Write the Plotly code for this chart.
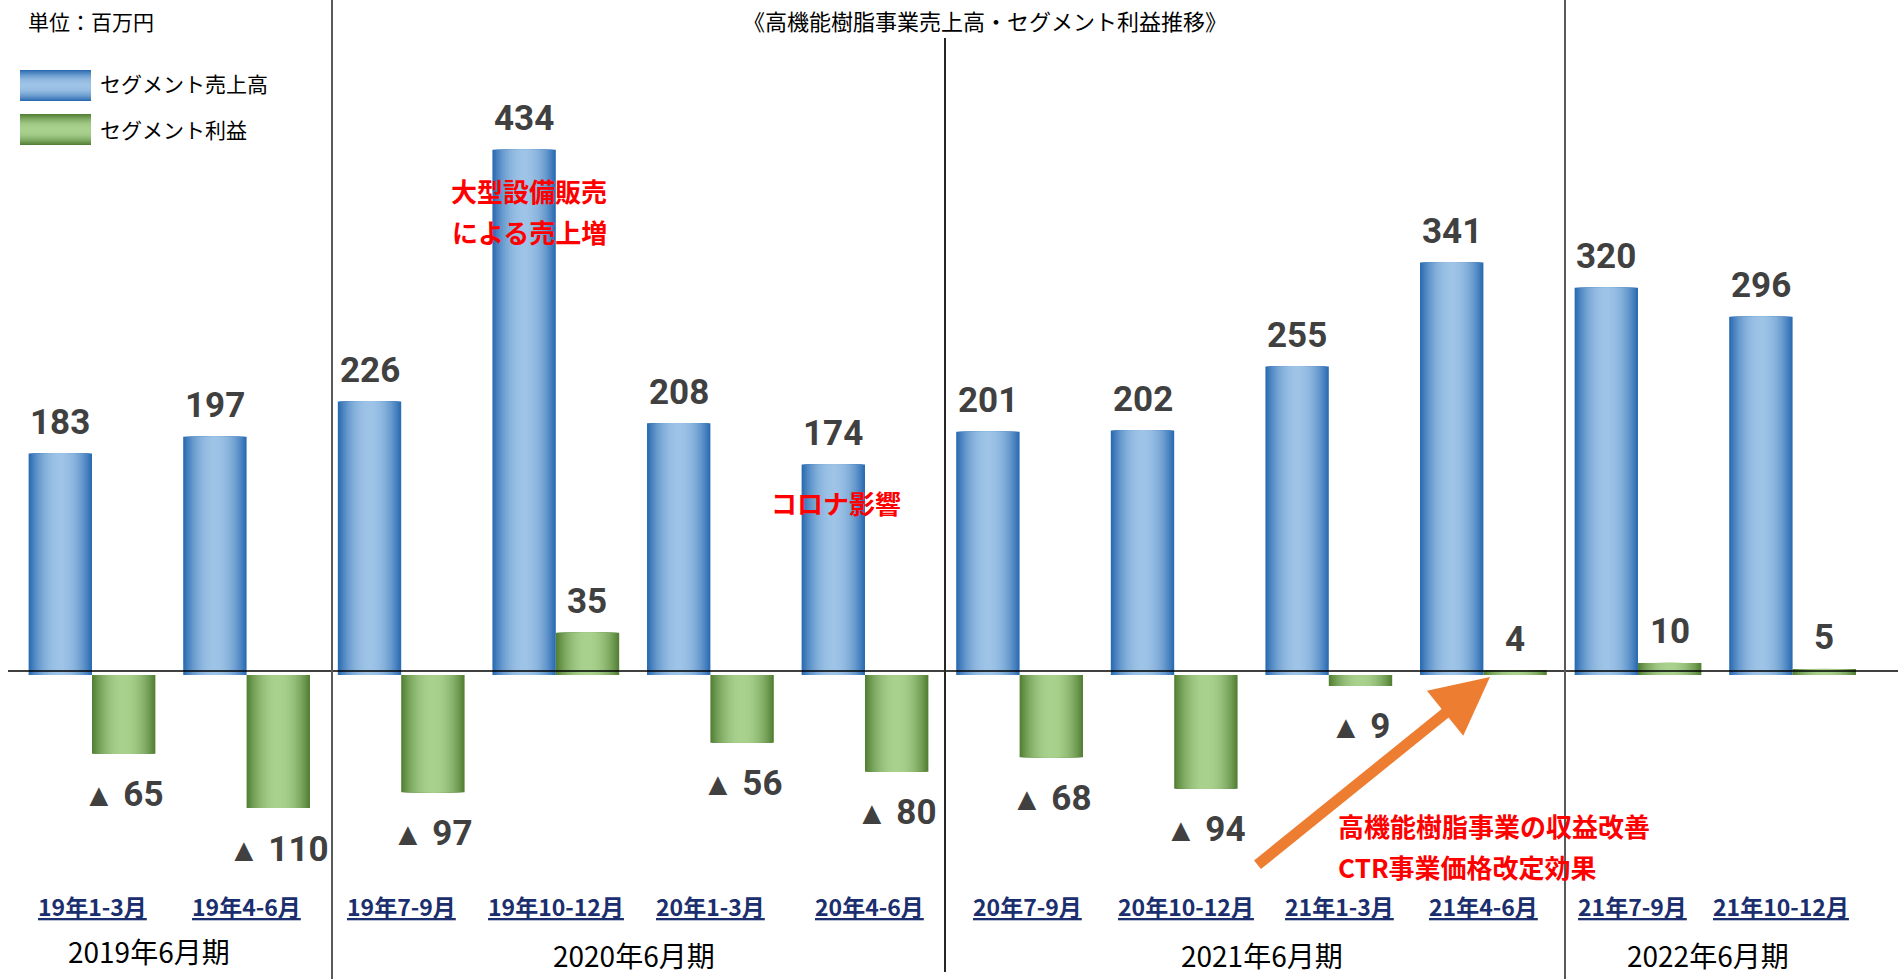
import plotly.graph_objects as go

# ---------------- data ----------------
periods = ["19年1-3月", "19年4-6月", "19年7-9月", "19年10-12月", "20年1-3月", "20年4-6月",
           "20年7-9月", "20年10-12月", "21年1-3月", "21年4-6月", "21年7-9月", "21年10-12月"]
sales = [183, 197, 226, 434, 208, 174, 201, 202, 255, 341, 320, 296]
profit = [-65, -110, -97, 35, -56, -80, -68, -94, -9, 4, 10, 5]
fiscal_years = ["2019年6月期", "2020年6月期", "2021年6月期", "2022年6月期"]
series_names = ["セグメント売上高", "セグメント利益"]

# ---------------- geometry / style ----------------
W_PX, H_PX = 1902, 979
X0_PX, X_UNIT = 92.0, 154.6       # pixel of category 0 centre, pixels per category
Y0_PX, Y_UNIT = 675.0, 1.21       # pixel of zero, pixels per unit
BAR_W = 0.41

x_range = [(0 - X0_PX) / X_UNIT, (W_PX - X0_PX) / X_UNIT]
y_range = [-(H_PX - Y0_PX) / Y_UNIT, Y0_PX / Y_UNIT]


def px2x(p):
    return (p - X0_PX) / X_UNIT


def py2y(p):
    return (Y0_PX - p) / Y_UNIT


def py2paper(p):
    return 1 - p / H_PX


def mix(c1, c2, t):
    a = [int(c1[i:i + 2], 16) for i in (1, 3, 5)]
    b = [int(c2[i:i + 2], 16) for i in (1, 3, 5)]
    return "rgb(%d,%d,%d)" % tuple(round(a[k] + (b[k] - a[k]) * t) for k in range(3))


BLUE_EDGE, BLUE_MID = "#2C6CB2", "#9DC3E6"
GREEN_EDGE, GREEN_MID = "#538135", "#A9D18E"
NUM_FONT = dict(family="Liberation Sans Narrow, Roboto, sans-serif",
                size=35, color="#404040", weight="bold")
JP = "Noto Sans CJK JP, sans-serif"

fig = go.Figure()
xs = list(range(len(periods)))


def gradient_bars(y, centre, edge, mid, name, n=18):
    for k in range(n):
        frac = k / (n - 1)
        w = BAR_W * (1 - k / n)
        t = 1 - (1 - frac) ** 2
        fig.add_bar(x=xs, y=y, width=w, offset=centre - w / 2, name=name,
                    marker=dict(color=mix(edge, mid, t), line=dict(width=0)),
                    showlegend=False, hoverinfo="skip")


gradient_bars(sales, -BAR_W / 2, BLUE_EDGE, BLUE_MID, series_names[0])
gradient_bars(profit, BAR_W / 2, GREEN_EDGE, GREEN_MID, series_names[1])

annotations = []
# value labels
for i, v in enumerate(sales):
    annotations.append(dict(x=i - BAR_W / 2, y=v, text=str(v), showarrow=False,
                            yanchor="middle", yshift=31, font=NUM_FONT))
for i, v in enumerate(profit):
    if v >= 0:
        annotations.append(dict(x=i + BAR_W / 2, y=v, text=str(v), showarrow=False,
                                yanchor="middle", yshift=31, font=NUM_FONT))
    else:
        annotations.append(dict(x=i + BAR_W / 2, y=v,
                                text="<span style='font-size:32px'>▲</span> " + str(-v),
                                showarrow=False, yanchor="middle", yshift=-41, font=NUM_FONT))

# category labels (underlined)
label_nudge = [0, 0, 0, 0, 0, 4, 8, 12, 11, 0, -6, -12]
for i, p in enumerate(periods):
    annotations.append(dict(x=i, y=py2paper(906), yref="paper", text="<u>" + p + "</u>",
                            showarrow=False, xshift=label_nudge[i], yanchor="middle",
                            font=dict(family=JP, size=23, color="#1B2E6E", weight="bold")))

# fiscal year labels
fy_px = [(149, 951), (634, 955), (1262, 955), (1708, 955)]
for (px, py), t in zip(fy_px, fiscal_years):
    annotations.append(dict(x=px2x(px), y=py2paper(py), yref="paper", text=t, showarrow=False,
                            yanchor="middle", font=dict(family=JP, size=28, color="#000000")))

# title (kept fully inside the page)
annotations.append(dict(x=px2x(985), y=py2paper(20), yref="paper",
                        text="《高機能樹脂事業売上高・セグメント利益推移》", showarrow=False,
                        yanchor="middle", font=dict(family=JP, size=22, color="#000000")))

# unit + legend
annotations.append(dict(x=26 / W_PX, xref="paper", xanchor="left", y=py2paper(21), yref="paper",
                        text="単位：百万円", showarrow=False, yanchor="middle",
                        font=dict(family=JP, size=21, color="#000000")))
for k, (name, yy) in enumerate(zip(series_names, [83, 129])):
    annotations.append(dict(x=98 / W_PX, xref="paper", xanchor="left", y=py2paper(yy), yref="paper",
                            text=name, showarrow=False, yanchor="middle",
                            font=dict(family=JP, size=21, color="#000000")))

# red comments
RED = dict(family=JP, size=26, color="#FF0000", weight="bold")
annotations.append(dict(x=px2x(529), y=py2paper(191), yref="paper", text="大型設備販売",
                        showarrow=False, yanchor="middle", font=RED))
annotations.append(dict(x=px2x(529), y=py2paper(231), yref="paper", text="による売上増",
                        showarrow=False, yanchor="middle", font=RED))
annotations.append(dict(x=px2x(836), y=py2paper(502), yref="paper", text="コロナ影響",
                        showarrow=False, yanchor="middle", font=RED))
annotations.append(dict(x=px2x(1336), y=py2paper(825), yref="paper", xanchor="left",
                        text="高機能樹脂事業の収益改善", showarrow=False, yanchor="middle", font=RED))
annotations.append(dict(x=px2x(1336), y=py2paper(866), yref="paper", xanchor="left",
                        text="CTR事業価格改定効果", showarrow=False, yanchor="middle", font=RED))

# orange arrow
annotations.append(dict(x=px2x(1490), y=py2y(677), text="", showarrow=True,
                        ax=1256 - 1490, ay=866 - 677, arrowcolor="#ED7D31",
                        arrowwidth=11, arrowhead=2, arrowsize=1.05, standoff=0))

shapes = []
# zero line
shapes.append(dict(type="line", x0=px2x(8), x1=px2x(1898), y0=py2y(671), y1=py2y(671),
                   line=dict(color="#000000", width=1.5), layer="above"))
# fiscal year dividers
for px, top, bot, col in [(332, 0, 979, "#595959"), (945, 38, 972, "#262626"), (1565, 0, 979, "#595959")]:
    shapes.append(dict(type="line", x0=px2x(px), x1=px2x(px), y0=py2paper(top), y1=py2paper(bot),
                       yref="paper", line=dict(color=col, width=2), layer="above"))

# legend swatches (vertical gradient)
n = 12
for (top, bot), edge, mid in [((70, 101), BLUE_EDGE, BLUE_MID), ((114, 145), GREEN_EDGE, GREEN_MID)]:
    h = bot - top
    c = (top + bot) / 2
    for k in range(n):
        frac = k / (n - 1)
        hh = h * (1 - k / n)
        t = 1 - (1 - frac) ** 2
        shapes.append(dict(type="rect", xref="paper", yref="paper",
                           x0=20 / W_PX, x1=91 / W_PX,
                           y0=py2paper(c + hh / 2), y1=py2paper(c - hh / 2),
                           line=dict(width=0), fillcolor=mix(edge, mid, t)))

fig.update_layout(
    width=W_PX, height=H_PX, autosize=False,
    barmode="overlay",
    margin=dict(l=0, r=0, t=0, b=0, autoexpand=False),
    paper_bgcolor="white", plot_bgcolor="white",
    xaxis=dict(range=x_range, visible=False, fixedrange=True),
    yaxis=dict(range=y_range, visible=False, fixedrange=True),
    showlegend=False,
    annotations=annotations,
    shapes=shapes,
)

fig.write_html(
    "out.html",
    config={"responsive": False, "displayModeBar": False},
    post_script="document.body.style.margin='0';document.body.style.overflow='hidden';",
)
